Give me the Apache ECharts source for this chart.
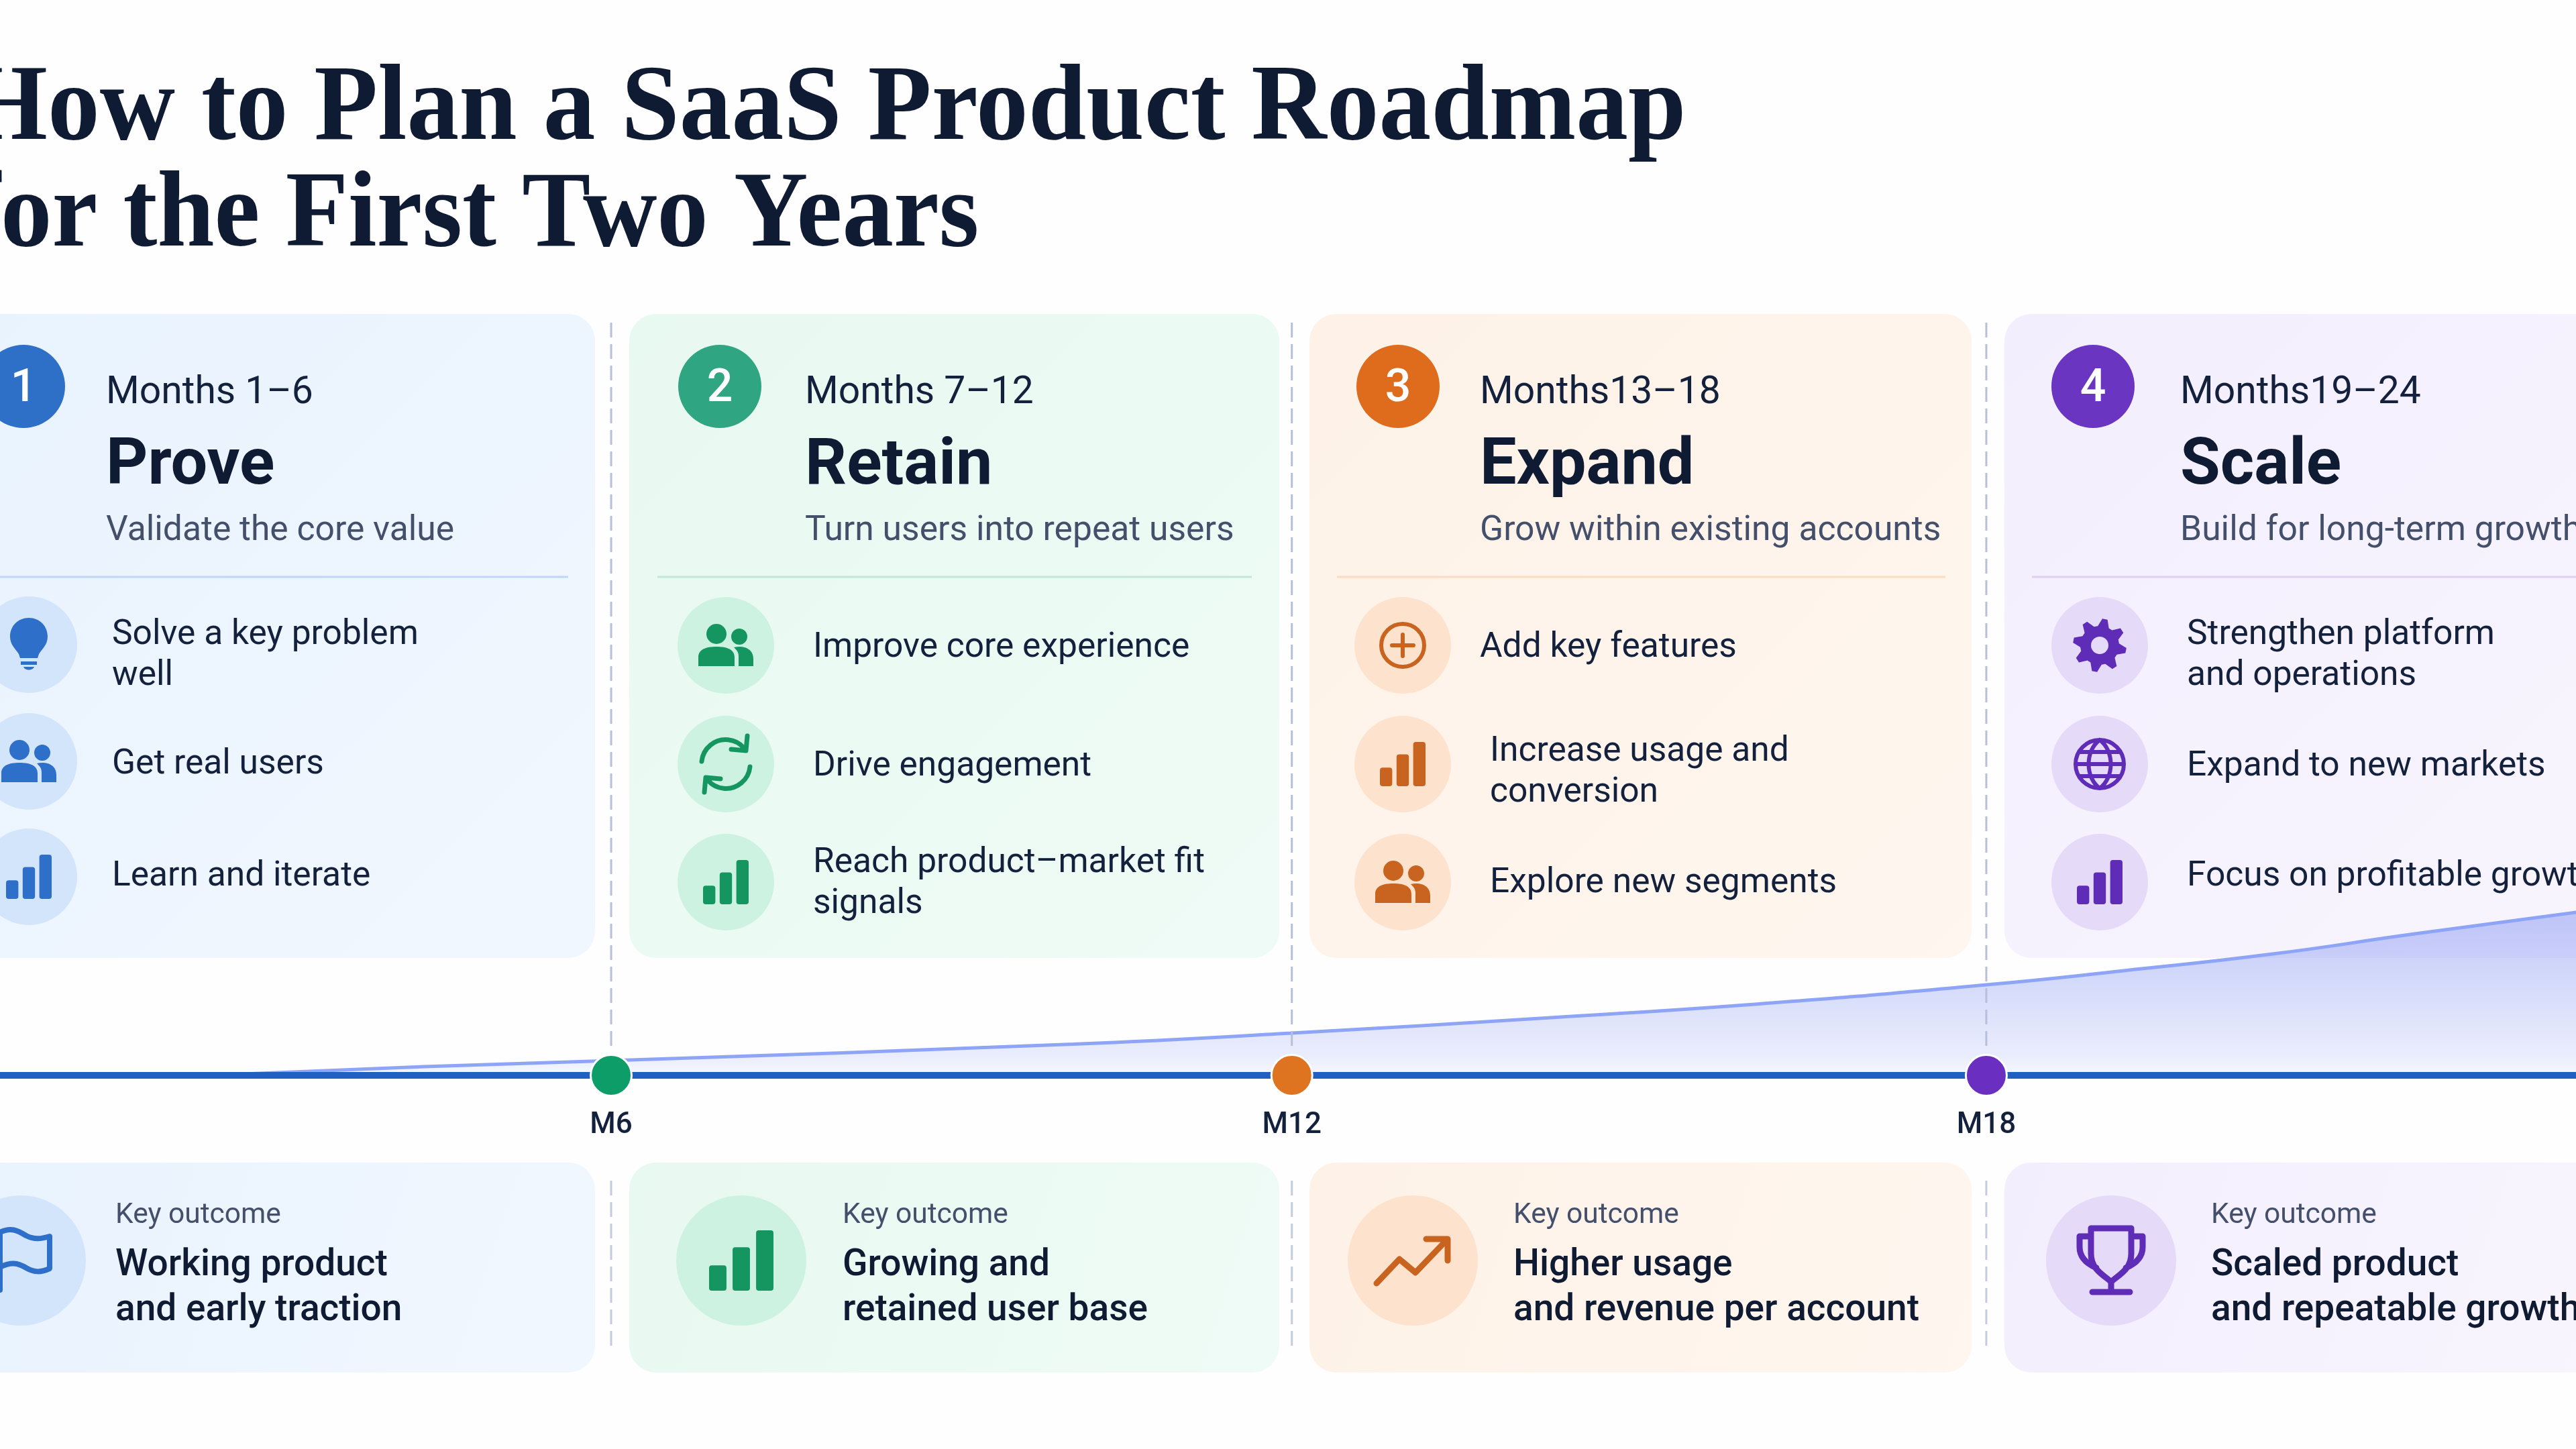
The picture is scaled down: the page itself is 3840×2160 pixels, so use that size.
<!DOCTYPE html>
<html>
<head>
<meta charset="utf-8">
<title>SaaS Product Roadmap</title>
<script src="https://cdn.jsdelivr.net/npm/echarts@6/dist/echarts.min.js"></script>
<style>
html, body { margin: 0; padding: 0; background: #fefefe; }
#main { width: 3840px; height: 2160px; }
</style>
</head>
<body>
<div id="main"></div>
<script>
// ---- data ----
var titleLines = ['How to Plan a SaaS Product Roadmap', 'for the First Two Years'];
var phaseNumbers = ['1', '2', '3', '4'];
var phaseMonths = ['Months 1–6', 'Months 7–12', 'Months13–18', 'Months19–24'];
var phaseNames = ['Prove', 'Retain', 'Expand', 'Scale'];
var phaseTaglines = ['Validate the core value', 'Turn users into repeat users', 'Grow within existing accounts', 'Build for long-term growth'];
var phaseItems = [
	['Solve a key problem\nwell', 'Get real users', 'Learn and iterate'],
	['Improve core experience', 'Drive engagement', 'Reach product–market fit\nsignals'],
	['Add key features', 'Increase usage and\nconversion', 'Explore new segments'],
	['Strengthen platform\nand operations', 'Expand to new markets', 'Focus on profitable growth']
];
var outcomeLabel = 'Key outcome';
var outcomes = [
	'Working product\nand early traction',
	'Growing and\nretained user base',
	'Higher usage\nand revenue per account',
	'Scaled product\nand repeatable growth'
];

var milestoneLabels = ['M6', 'M12', 'M18'];
var milestoneMonths = [6, 11.94, 18];
var curveMonths = [2.5, 4.37, 6, 10.03, 11.94, 14.2, 15.9, 18, 19.2, 20.5, 21.74, 23.15];
var curveValues = [0, 4.3, 7.3, 15.5, 21, 28.7, 35, 45, 52, 60.3, 70.3, 81];

// ---- layout and styles ----
var cardLeft = [-60, 938, 1952, 2988];
var cardRight = [887, 1907, 2939, 3900];
var cardFill = [['#e9f3fe', '#f1f7fe'], ['#e8f9f1', '#effbf6'], ['#fef2e7', '#fef6ef'], ['#f3eefd', '#f8f5fe']];
var strong = ['#2e6fc8', '#2fa581', '#de6c1c', '#6a35c0'];
var iconColor = ['#2e6fca', '#159660', '#c8641f', '#5f2cb8'];
var tint = ['#d2e5fb', '#cdf2e2', '#fde3cd', '#e6daf9'];
var rule = ['#bcd8f6', '#bfe8d6', '#fbdcc0', '#ddd0f4'];
var numberX = [35, 1073, 2084, 3120];
var headX = [158, 1200, 2206, 3250];
var ruleX = [[0, 847], [980, 1866], [1993, 2900], [3029, 3840]];
var itemCircleX = [43, 1082, 2091, 3130];
var itemCircleY = [[961, 1135, 1307], [962, 1139, 1315], [962, 1139, 1315], [962, 1139, 1315]];
var itemTextX = [[167, 167, 167], [1212, 1212, 1212], [2206, 2221, 2221], [3260, 3260, 3260]];
var itemTextY = [[973, 1136, 1303], [962, 1139, 1313], [962, 1147, 1313], [973, 1139, 1303]];
var itemIcons = [['bulb', 'users', 'bars'], ['users', 'refresh', 'bars'], ['plus', 'bars', 'users'], ['gear', 'globe', 'bars']];
var outcomeCircleX = [31, 1105, 2106, 3147];
var outcomeTextX = [172, 1256, 2256, 3296];
var outcomeIcons = ['flag', 'bars', 'trend', 'trophy'];

var INK = '#14213d', SOFT = '#44506b', DARK = '#0f1a33', BODY = 'Roboto';

var linePaths = {
	plus: 'M-32 0 A32 32 0 1 1 32 0 A32 32 0 1 1 -32 0 Z M-16 0 L16 0 M0 -16 L0 16',
	refresh: 'M-36 -4 A36 36 0 0 1 27 -24 M32 -42 L30 -20 L8 -22 M36 4 A36 36 0 0 1 -27 24 M-32 42 L-30 20 L-8 22',
	globe: 'M-36 0 A36 36 0 1 1 36 0 A36 36 0 1 1 -36 0 Z M0 -36 C-22 -20 -22 20 0 36 C22 20 22 -20 0 -36 M-36 0 L36 0 M-30 -18 L30 -18 M-30 18 L30 18',
	flag: 'M-31 44 L-31 -42 C-15 -50 -5 -45 8 -37 C20 -31 30 -32 43 -36 L43 12 C30 18 20 18 8 11 C-5 3 -15 2 -31 10',
	trend: 'M-54 34 L-20 -2 L4 18 L50 -30 M20 -32 L52 -32 L52 0',
	trophy: 'M-30 -48 L30 -48 L30 -10 C30 14 10 22 0 32 C-10 22 -30 14 -30 -10 Z M-30 -36 L-47 -36 L-47 -20 C-47 -5 -36 5 -22 11 M30 -36 L47 -36 L47 -20 C47 -5 36 5 22 11 M0 32 L0 46 M-28 47 L28 47'
};
var fillPaths = {
	bulb: 'M0 -40 C-16 -40 -28 -28 -28 -12 C-28 0 -20 6 -15 14 L-13 20 L13 20 L15 14 C20 6 28 0 28 -12 C28 -28 16 -40 0 -40 Z M-12 25 L12 25 L12 30 L-12 30 Z M-8 33 L8 33 C6 39 -6 39 -8 33 Z',
	users: 'M-29 -17 A15 15 0 1 0 1 -17 A15 15 0 1 0 -29 -17 Z M8 -13 A12 12 0 1 0 32 -13 A12 12 0 1 0 8 -13 Z M-41 31 L-41 18 C-41 6 -30 2 -14 2 C2 2 13 6 13 18 L13 31 Z M19 31 L19 16 C19 10 16 7 12 3 C25 0 41 4 41 20 L41 31 Z'
};
var lineWidths = { plus: 6, refresh: 7, globe: 6, flag: 8, trend: 9, trophy: 9 };

for (var p in linePaths) {
	echarts.graphic.registerShape('icon-' + p, echarts.graphic.extendPath(linePaths[p], {}));
}
for (var f in fillPaths) {
	echarts.graphic.registerShape('icon-' + f, echarts.graphic.extendPath(fillPaths[f], {}));
}

var dom = document.getElementById('main');
var myChart = echarts.init(dom, null, { renderer: 'canvas' });

var curveData = [];
for (var i = 0; i < curveMonths.length; i++) {
	curveData.push([curveMonths[i], curveValues[i]]);
}
var milestoneData = [];
for (var m = 0; m < milestoneMonths.length; m++) {
	milestoneData.push({
		value: [milestoneMonths[m], 0],
		name: milestoneLabels[m],
		itemStyle: { color: ['#0c9d68', '#df7420', '#6a2fc0'][m], opacity: 1, borderColor: '#ffffff', borderWidth: 3 }
	});
}

var option = {
	animation: false,
	backgroundColor: '#fefefe',
	// the picture is cropped, the visible window of the month scale runs from 0.667 to 23.146
	grid: { left: 0, right: 0, top: 1303, bottom: 557 },
	xAxis: {
		type: 'value', min: 0.667, max: 23.146, z: 3,
		axisLine: { show: true, onZero: true, lineStyle: { color: '#2060c2', width: 10 } },
		axisTick: { show: false }, axisLabel: { show: false }, splitLine: { show: false }
	},
	yAxis: {
		type: 'value', min: 0, max: 100,
		axisLine: { show: false }, axisTick: { show: false }, axisLabel: { show: false }, splitLine: { show: false }
	},
	series: [{
		type: 'line', data: curveData, smooth: true, symbol: 'none', z: 2,
		lineStyle: { color: '#8ea4f6', width: 5 },
		areaStyle: {
			opacity: 1,
			color: new echarts.graphic.LinearGradient(0, 0, 0, 1, [
				{ offset: 0, color: 'rgba(110,130,240,0.42)' },
				{ offset: 0.44, color: 'rgba(110,130,240,0.29)' },
				{ offset: 0.72, color: 'rgba(110,130,240,0.19)' },
				{ offset: 0.88, color: 'rgba(110,130,240,0.14)' },
				{ offset: 1, color: 'rgba(110,130,240,0.06)' }
			])
		}
	}, {
		type: 'scatter', data: milestoneData, symbolSize: 61, z: 5,
		label: {
			show: true, position: 'bottom', distance: 21,
			formatter: '{b}', fontFamily: BODY, fontSize: 44, fontWeight: 500, color: INK
		}
	}]
};
myChart.setOption(option);

// ---- cards and text around the chart ----
var els = [];

function txt(str, x, baseline, size, weight, color) {
	els.push({
		type: 'text', z: 1, x: x, y: baseline - 0.245 * size,
		style: { text: str, font: weight + ' ' + size + 'px ' + BODY, fill: color, verticalAlign: 'middle', align: 'left' }
	});
}
function titleTxt(str, x, baseline, squeeze) {
	els.push({
		type: 'text', z: 1, x: x, y: baseline - 0.26 * 160, scaleX: squeeze,
		style: { text: str, font: 'bold 160px "Liberation Serif"', fill: DARK, verticalAlign: 'middle', align: 'left' }
	});
}
function card(c, top, bottom) {
	els.push({
		type: 'rect', z: 0,
		shape: { x: cardLeft[c], y: top, width: cardRight[c] - cardLeft[c], height: bottom - top, r: 40 },
		style: { fill: new echarts.graphic.LinearGradient(0, 0, 1, 1, [{ offset: 0, color: cardFill[c][0] }, { offset: 1, color: cardFill[c][1] }]) }
	});
}
function circle(x, y, r, fill) {
	els.push({ type: 'circle', z: 1, shape: { cx: x, cy: y, r: r }, style: { fill: fill } });
}
function bars(x, y, w, h, color) {
	// three rising bars, w and h are the size of the whole glyph
	var bw = w * 0.27, gap = (w - 3 * bw) / 2, heights = [0.42, 0.72, 1];
	for (var b = 0; b < 3; b++) {
		els.push({
			type: 'rect', z: 2,
			shape: { x: x - w / 2 + b * (bw + gap), y: y + h / 2 - h * heights[b], width: bw, height: h * heights[b], r: 4 },
			style: { fill: color }
		});
	}
}
function gear(x, y, color, hole) {
	var pts = [], teeth = 8;
	for (var t = 0; t < teeth * 4; t++) {
		var a = (t + 0.5) / (teeth * 4) * Math.PI * 2;
		var r = (t % 4 < 2) ? 40 : 29;
		pts.push([x + r * Math.cos(a), y + r * Math.sin(a)]);
	}
	els.push({ type: 'polygon', z: 2, shape: { points: pts }, style: { fill: color } });
	els.push({ type: 'circle', z: 2, shape: { cx: x, cy: y, r: 13 }, style: { fill: hole } });
}
function icon(name, x, y, c, big) {
	var color = iconColor[c];
	if (name == 'bars') {
		if (big) { bars(x, y, 96, 90, color); } else { bars(x, y, 68, 66, color); }
	} else if (name == 'gear') {
		gear(x, y, color, tint[c]);
	} else if (fillPaths[name]) {
		els.push({ type: 'icon-' + name, z: 2, x: x, y: y, style: { fill: color } });
	} else {
		els.push({
			type: 'icon-' + name, z: 2, x: x, y: y,
			style: { fill: 'none', stroke: color, lineWidth: lineWidths[name], lineJoin: 'round', lineCap: 'round' }
		});
	}
}

titleTxt(titleLines[0], -50, 207, 0.972);
titleTxt(titleLines[1], -50, 366, 0.956);

for (var c = 0; c < 4; c++) {
	card(c, 468, 1428);
	card(c, 1733, 2046);

	circle(numberX[c], 576, 62, strong[c]);
	els.push({
		type: 'text', z: 2, x: numberX[c], y: 581,
		style: { text: phaseNumbers[c], font: '500 68px ' + BODY, fill: '#ffffff', align: 'center', verticalAlign: 'middle' }
	});
	txt(phaseMonths[c], headX[c], 601, 57, 400, INK);
	txt(phaseNames[c], headX[c], 721, 97, 700, DARK);
	txt(phaseTaglines[c], headX[c], 805, 51.6, 400, SOFT);
	els.push({
		type: 'line', z: 1,
		shape: { x1: ruleX[c][0], y1: 860, x2: ruleX[c][1], y2: 860 },
		style: { stroke: rule[c], lineWidth: 3 }
	});

	for (var k = 0; k < 3; k++) {
		circle(itemCircleX[c], itemCircleY[c][k], 72, tint[c]);
		icon(itemIcons[c][k], itemCircleX[c], itemCircleY[c][k], c, false);
		var lines = phaseItems[c][k].split('\n');
		for (var l = 0; l < lines.length; l++) {
			var off = (l - (lines.length - 1) / 2) * 61;
			txt(lines[l], itemTextX[c][k], itemTextY[c][k] + off + 17, 51.5, 400, INK);
		}
	}

	circle(outcomeCircleX[c], 1879, 97, tint[c]);
	icon(outcomeIcons[c], outcomeCircleX[c], 1879, c, true);
	txt(outcomeLabel, outcomeTextX[c], 1823, 42.5, 400, SOFT);
	var oLines = outcomes[c].split('\n');
	txt(oLines[0], outcomeTextX[c], 1901, 55, 500, DARK);
	txt(oLines[1], outcomeTextX[c], 1968, 55, 500, DARK);
}

// dashed guides follow the month scale
for (var g = 0; g < milestoneMonths.length; g++) {
	var gx = myChart.convertToPixel({ xAxisIndex: 0 }, milestoneMonths[g]);
	els.push({ type: 'line', z: 3, shape: { x1: gx, y1: 481, x2: gx, y2: 1568 }, style: { stroke: '#b6c0da', lineWidth: 3, lineDash: [22, 10] } });
	els.push({ type: 'line', z: 3, shape: { x1: gx, y1: 1760, x2: gx, y2: 2013 }, style: { stroke: '#c3cbdc', lineWidth: 3, lineDash: [22, 10] } });
}

myChart.setOption({ graphic: { elements: els } });
</script>
</body>
</html>
